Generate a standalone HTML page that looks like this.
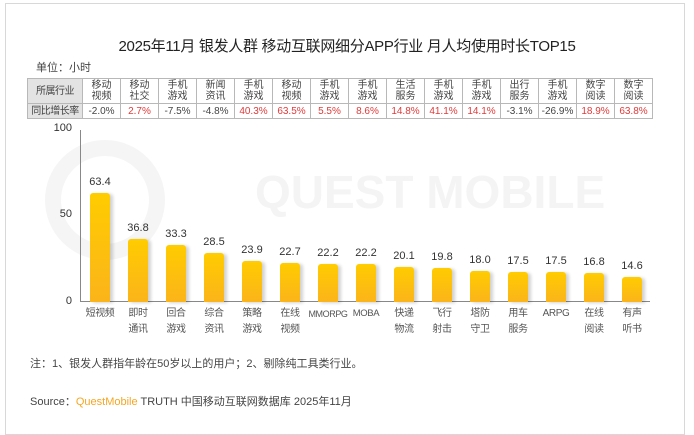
<!DOCTYPE html>
<html><head><meta charset="utf-8"><style>
body{margin:0;width:694px;height:416px;background:#fff;position:relative;overflow:hidden;font-family:"Liberation Sans","Noto Sans CJK SC",sans-serif;color:#333}
.a{position:absolute}
.frame{left:5px;top:3px;width:678px;height:430px;border:1px solid #d8d8d8}
table{position:absolute;left:27px;top:78px;border-collapse:collapse;font-size:10px;line-height:11px}
td{border:1px solid #b8b8b8;width:37px;text-align:center;padding:0;color:#444;white-space:nowrap}
td.h{width:54px;background:#e3e3e3;font-size:10px;letter-spacing:-0.5px}
tr.r1 td{height:24px}
tr.r2 td{height:14px}
.red{color:#e03a3a!important}
.bar{position:absolute;width:20px;bottom:114px;background:linear-gradient(#ffcc00,#fbb41a);border-radius:3px 3px 0 0;box-shadow:3px 1px 3px rgba(0,0,0,.18)}
.v{position:absolute;width:40px;text-align:center;font-size:11px;color:#333}
.l{position:absolute;width:40px;text-align:center;font-size:10px;line-height:16px;color:#555;top:306px;white-space:nowrap;letter-spacing:-0.4px}
</style></head><body>
<div class="a frame"></div>
<svg class="a" style="left:0;top:120px" width="694" height="200"><circle cx="105" cy="80" r="52" fill="none" stroke="#f5f5f5" stroke-width="16"/><text x="255" y="88" font-size="46" fill="#f4f4f4" font-family="Liberation Sans" font-weight="bold">QUEST MOBILE</text></svg>
<div class="a" style="left:0;width:694px;top:35px;text-align:center;font-size:15px;color:#222;letter-spacing:-0.3px">2025年11月 银发人群 移动互联网细分APP行业 月人均使用时长TOP15</div>
<div class="a" style="left:36px;top:59px;font-size:11px;color:#444">单位：小时</div>
<table>
<tr class="r1"><td class="h">所属行业</td><td>移动<br>视频</td><td>移动<br>社交</td><td>手机<br>游戏</td><td>新闻<br>资讯</td><td>手机<br>游戏</td><td>移动<br>视频</td><td>手机<br>游戏</td><td>手机<br>游戏</td><td>生活<br>服务</td><td>手机<br>游戏</td><td>手机<br>游戏</td><td>出行<br>服务</td><td>手机<br>游戏</td><td>数字<br>阅读</td><td>数字<br>阅读</td></tr>
<tr class="r2"><td class="h">同比增长率</td><td>-2.0%</td><td class="red">2.7%</td><td>-7.5%</td><td>-4.8%</td><td class="red">40.3%</td><td class="red">63.5%</td><td class="red">5.5%</td><td class="red">8.6%</td><td class="red">14.8%</td><td class="red">41.1%</td><td class="red">14.1%</td><td>-3.1%</td><td>-26.9%</td><td class="red">18.9%</td><td class="red">63.8%</td></tr>
</table>
<div class="a" style="left:80px;top:130px;width:1px;height:172px;background:#888"></div>
<div class="a" style="left:80px;top:301px;width:570px;height:1px;background:#888"></div>
<div class="a" style="left:40px;top:122px;width:32px;text-align:right;font-size:11px">100</div>
<div class="a" style="left:40px;top:208px;width:32px;text-align:right;font-size:11px">50</div>
<div class="a" style="left:40px;top:295px;width:32px;text-align:right;font-size:11px">0</div>
<div id="c"></div>
<div class="a" style="left:30px;top:355px;font-size:11px;color:#444">注：1、银发人群指年龄在50岁以上的用户；2、剔除纯工具类行业。</div>
<div class="a" style="left:30px;top:393px;font-size:11px;color:#444">Source：<span style="color:#f5a623">QuestMobile</span> TRUTH 中国移动互联网数据库 2025年11月</div>
<script>
var v=[63.4,36.8,33.3,28.5,23.9,22.7,22.2,22.2,20.1,19.8,18.0,17.5,17.5,16.8,14.6];
var n=["短视频","即时<br>通讯","回合<br>游戏","综合<br>资讯","策略<br>游戏","在线<br>视频","<span style='font-size:9px'>MMORPG</span>","<span style='font-size:9.5px'>MOBA</span>","快递<br>物流","飞行<br>射击","塔防<br>守卫","用车<br>服务","ARPG","在线<br>阅读","有声<br>听书"];
var h="";
for(var i=0;i<15;i++){var cx=100+i*38.0,hh=v[i]*1.72;
h+='<div class="bar" style="left:'+(cx-10)+'px;height:'+hh+'px"></div>';
h+='<div class="v" style="left:'+(cx-20)+'px;top:'+(301-hh-16)+'px">'+v[i].toFixed(1)+'</div>';
h+='<div class="l" style="left:'+(cx-20)+'px">'+n[i]+'</div>';}
document.getElementById("c").innerHTML=h;
</script>
</body></html>
